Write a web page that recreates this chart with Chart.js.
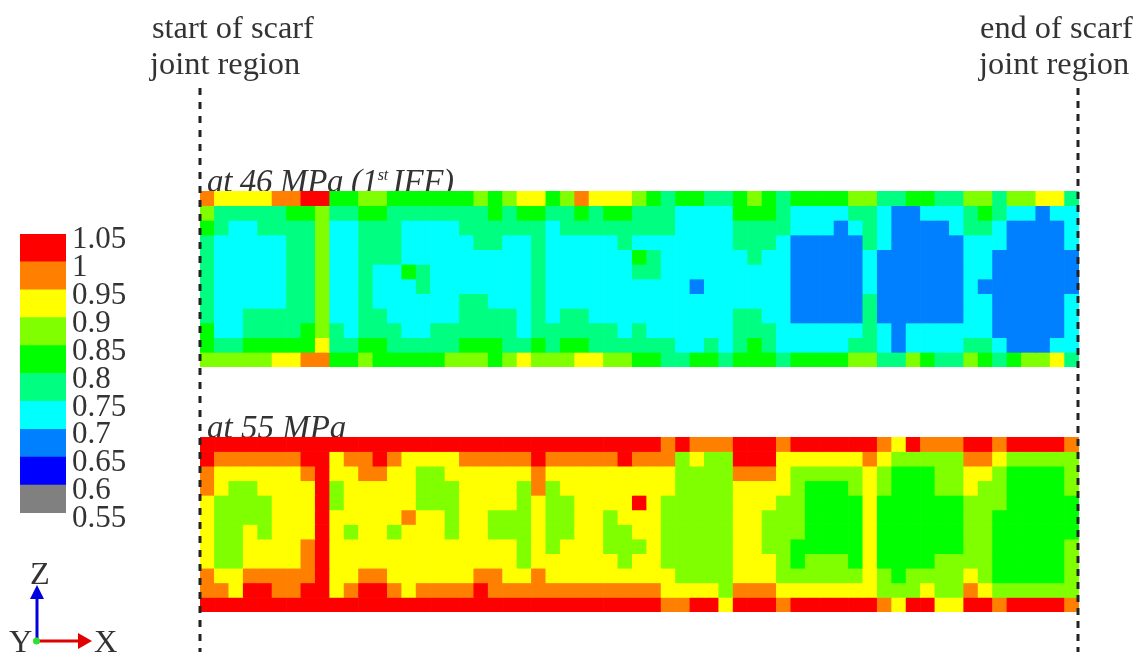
<!DOCTYPE html>
<html>
<head>
<meta charset="utf-8">
<title>Scarf joint region</title>
<script src="https://cdn.jsdelivr.net/npm/chart.js@4"></script>
<style>
  html, body { margin: 0; padding: 0; background: #fff; overflow: hidden; }
  #stage { position: relative; width: 1138px; height: 652px; overflow: hidden; filter: blur(0.6px); }
  #stage canvas { position: absolute; }
  #stage svg { position: absolute; left: 0; top: 0; }
  .txt { position: absolute; font-family: "Liberation Serif", serif; font-size: 32.4px; color: #333; white-space: nowrap; line-height: 36px; }
  .cap { font-style: italic; font-size: 33px; }
  .cap sup { font-size: 16px; line-height: 0; }
</style>
</head>
<body>
<div id="stage">
  <div class="txt" style="left:152px;top:9px">start of scarf<br><span style="margin-left:-2px">joint region</span></div>
  <div class="txt" style="left:980px;top:9px">end of scarf<br><span style="margin-left:-1px">joint region</span></div>
  <div class="txt cap" style="left:207px;top:163px;letter-spacing:-0.35px">at 46 MPa (1<sup>st</sup><span style="margin-left:-3px"> </span>IFF)</div>
  <div class="txt cap" style="left:207px;top:409px">at 55 MPa</div>

  <canvas id="barra" width="130" height="340" style="left:0;top:200px"></canvas>
  <canvas id="mapa46" width="879" height="176" style="left:200px;top:191px"></canvas>
  <canvas id="mapa55" width="879" height="175" style="left:200px;top:437px"></canvas>

  <svg width="1138" height="652">
    <line x1="200" y1="88" x2="200" y2="652" stroke="#222" stroke-width="3" stroke-dasharray="7 7"/>
    <line x1="1078" y1="88" x2="1078" y2="652" stroke="#222" stroke-width="3" stroke-dasharray="7 6"/>
    <line x1="37" y1="640" x2="37" y2="598" stroke="#0000e0" stroke-width="3"/>
    <polygon points="37,585 30,599 44,599" fill="#0000e0"/>
    <line x1="37" y1="641" x2="79" y2="641" stroke="#e00000" stroke-width="3"/>
    <polygon points="92,641 78,633 78,649" fill="#e00000"/>
    <circle cx="36.5" cy="641" r="3.5" fill="#30e030"/>
  </svg>
  <div class="txt" style="left:30px;top:555px">Z</div>
  <div class="txt" style="left:9px;top:623px">Y</div>
  <div class="txt" style="left:94px;top:623px">X</div>
</div>

<script>
// Bandas de la barra de color, de abajo hacia arriba
const limites = [0.55, 0.6, 0.65, 0.7, 0.75, 0.8, 0.85, 0.9, 0.95, 1, 1.05];
const etiquetas = ['0.55', '0.6', '0.65', '0.7', '0.75', '0.8', '0.85', '0.9', '0.95', '1', '1.05'];
const colores = ['#808080', '#0000ff', '#0080ff', '#00ffff', '#00ff80', '#00ff00', '#80ff00', '#ffff00', '#ff8000', '#ff0000'];

// Cada fila es una hilera de celdas; cada digito es el indice de la banda
const filas46 = [
  '877778899556655555565 67756877765455445654 55556644554466466774',
  '644444556445544444445 45544545544433335554 33334432233345433233',
  '543344446334443333444 44434444444433334444 33323432222344322223',
  '433333446334443333344 33433333433333334443 22222432222233322223',
  '433333446334443333333 33433333354333333433 22222322222233222222',
  '433333446334335433333 33433333344333333333 22222322222233222222',
  '433333446334333433333 33433333333332333333 22222322222232222222',
  '433333446334333333443 33433333333333333333 22222422222233222223',
  '433444446334433333444 43434433333333334433 22222422222233222223',
  '533444456434443344444 43444444343333334443 33333432333333222223',
  '544555557445544444555 44545544444433434543 33334432333344322233',
  '666667788556555556665 67666776655445545554 55556644654465456674'
];
const filas55 = [
  '999999999999999999999 99999999999898889998 99999987988899899998',
  '988888899788987777888 88988888988867669997 77777876666688766666',
  '877777789778877667777 77877777777766668887 66666765556677655556',
  '876677779677777666777 76867777777766667777 65556765556676655556',
  '766667779677777666777 76766777797666667776 65555755555566655555',
  '766667779777778776776 66766776777666667766 65555755555566555555',
  '766767779767767776776 66766776677666667766 65555755555566555555',
  '766777789777777777777 76767776667666667766 55555755555566555556',
  '766777789777777777777 76777777677666667776 56665755556666555556',
  '877888889778877777788 77877777777766667776 66666765666676555556',
  '887998899789987888898 88888888888777768887 77777766676687666666',
  '999999999999999999999 99999999999889979998 99999987997799899998'
];

function crearMapa(id, filas) {
  const celdas = filas.map(f => f.replace(/ /g, '').split('').map(Number));
  const columnas = celdas[0].map((_, i) => i + 1);

  new Chart(document.getElementById(id), {
    type: 'bar',
    data: {
      labels: columnas,
      datasets: celdas.map((fila, r) => ({
        data: fila.map(() => [r, r + 1]),
        backgroundColor: fila.map(b => colores[b]),
        barPercentage: 1,
        categoryPercentage: 1,
        grouped: false
      }))
    },
    options: {
      responsive: false,
      animation: false,
      plugins: { legend: { display: false }, tooltip: { enabled: false } },
      layout: { padding: 0 },
      scales: {
        x: { display: false },
        y: { display: false, reverse: true, min: 0, max: celdas.length }
      }
    }
  });
}

crearMapa('mapa46', filas46);
crearMapa('mapa55', filas55);

// Barra de color
new Chart(document.getElementById('barra'), {
  type: 'bar',
  data: {
    labels: ['S'],
    datasets: colores.map((c, i) => ({
      data: [[limites[i], limites[i + 1]]],
      backgroundColor: c,
      barPercentage: 1,
      categoryPercentage: 1,
      grouped: false
    }))
  },
  options: {
    responsive: false,
    animation: false,
    plugins: { legend: { display: false }, tooltip: { enabled: false } },
    layout: { padding: { left: 20, top: 34, bottom: 27, right: 0 } },
    scales: {
      x: { display: false },
      y: {
        position: 'right',
        min: 0.55,
        max: 1.05,
        afterFit: s => { s.width = 64; },
        afterBuildTicks: s => { s.ticks = limites.map(v => ({ value: v })); },
        grid: { display: false, drawTicks: false },
        border: { display: false },
        ticks: {
          autoSkip: false,
          padding: 6,
          labelOffset: 6,
          color: '#333',
          font: { family: '"Liberation Serif"', size: 31 },
          callback: (v, i) => etiquetas[i]
        }
      }
    }
  }
});
</script>
</body>
</html>
